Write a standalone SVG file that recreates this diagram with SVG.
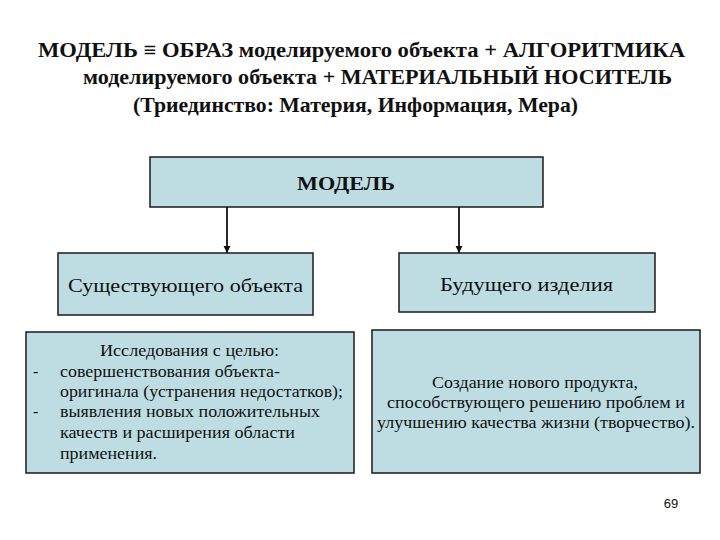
<svg xmlns="http://www.w3.org/2000/svg" width="720" height="540" viewBox="0 0 720 540">
<style>
.box{fill:#bddde2;stroke:#1a1a1a;stroke-width:1.5}
.t{font-family:"Liberation Serif","DejaVu Serif","Times New Roman",serif;fill:#111}
.h{font-size:21px;font-weight:bold}
.m{font-size:19px}
.s{font-size:16px}
.c{text-anchor:middle}
</style>
<defs>
<marker id="ah" markerWidth="8" markerHeight="9" refX="7" refY="4.5" orient="auto" markerUnits="userSpaceOnUse">
<path d="M0,1 L7,4.5 L0,8 z" fill="#111"/>
</marker>
</defs>
<rect width="720" height="540" fill="#fff"/>
<g id="title" class="t h">
<text x="38" y="57" textLength="647" lengthAdjust="spacingAndGlyphs">МОДЕЛЬ  ≡ ОБРАЗ моделируемого объекта + АЛГОРИТМИКА</text>
<text x="83" y="84" textLength="589" lengthAdjust="spacingAndGlyphs">моделируемого объекта + МАТЕРИАЛЬНЫЙ НОСИТЕЛЬ</text>
<text x="133" y="112" textLength="445" lengthAdjust="spacingAndGlyphs">(Триединство: Материя, Информация, Мера)</text>
</g>
<g id="connectors">
<line x1="227" y1="207" x2="227" y2="253" stroke="#111" stroke-width="1.8" marker-end="url(#ah)"/>
<line x1="459" y1="207" x2="459" y2="253" stroke="#111" stroke-width="1.8" marker-end="url(#ah)"/>
</g>
<g id="model">
<rect class="box" x="150" y="157" width="393" height="50"/>
<text class="t" x="297" y="190" font-size="19" font-weight="bold" textLength="98" lengthAdjust="spacingAndGlyphs">МОДЕЛЬ</text>
</g>
<g id="existing">
<rect class="box" x="58" y="253" width="255" height="62"/>
<text class="t m" x="68" y="292" textLength="235" lengthAdjust="spacingAndGlyphs">Существующего объекта</text>
</g>
<g id="future">
<rect class="box" x="399" y="253" width="256" height="59"/>
<text class="t m" x="440" y="291" textLength="173" lengthAdjust="spacingAndGlyphs">Будущего изделия</text>
</g>
<g id="research">
<rect class="box" x="26" y="332" width="328" height="141"/>
<g class="t s">
<text x="100" y="356" textLength="179" lengthAdjust="spacingAndGlyphs">Исследования с целью:</text>
<text x="33" y="377">-</text>
<text x="60" y="377" textLength="220" lengthAdjust="spacingAndGlyphs">совершенствования объекта-</text>
<text x="60" y="397" textLength="283" lengthAdjust="spacingAndGlyphs">оригинала (устранения недостатков);</text>
<text x="33" y="417">-</text>
<text x="60" y="417" textLength="260" lengthAdjust="spacingAndGlyphs">выявления новых положительных</text>
<text x="60" y="438" textLength="235" lengthAdjust="spacingAndGlyphs">качеств и расширения области</text>
<text x="60" y="459" textLength="97" lengthAdjust="spacingAndGlyphs">применения.</text>
</g>
</g>
<g id="creation">
<rect class="box" x="372" y="330" width="328" height="143"/>
<g class="t s">
<text x="432" y="388" textLength="206" lengthAdjust="spacingAndGlyphs">Создание нового продукта,</text>
<text x="387" y="408" textLength="298" lengthAdjust="spacingAndGlyphs">способствующего решению проблем и</text>
<text x="377" y="428" textLength="318" lengthAdjust="spacingAndGlyphs">улучшению качества жизни (творчество).</text>
</g>
</g>
<text x="671" y="508" font-family="Liberation Sans,Arial,sans-serif" font-size="13" text-anchor="middle" fill="#111">69</text>
</svg>
